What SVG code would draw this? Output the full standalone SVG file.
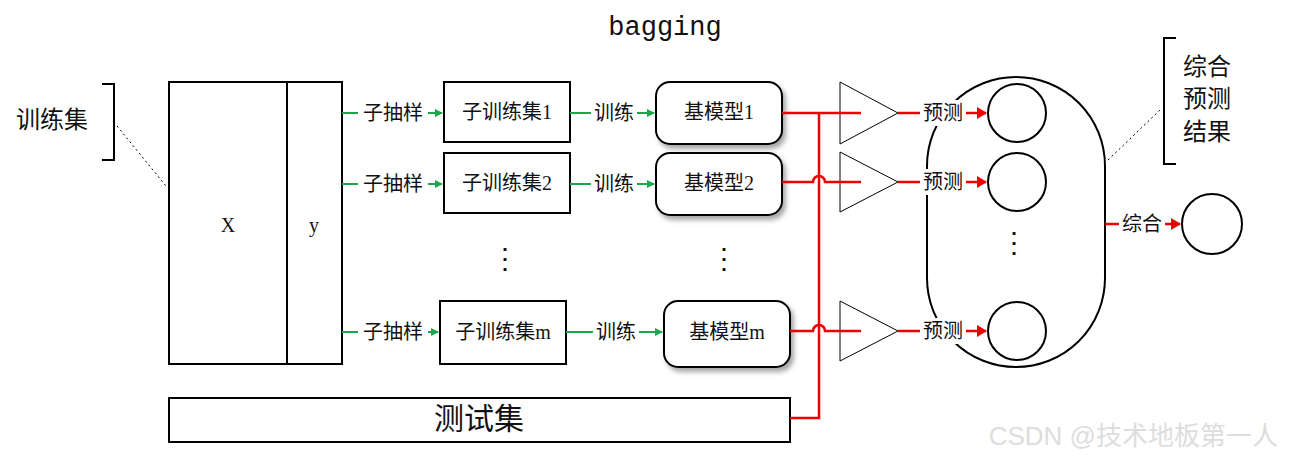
<svg xmlns="http://www.w3.org/2000/svg" width="1295" height="462" viewBox="0 0 1295 462">
<defs>
<marker id="ag" markerWidth="8" markerHeight="8" refX="7" refY="4" orient="auto" markerUnits="userSpaceOnUse"><path d="M0,0 L8,4 L0,8 z" fill="#1aa64a"/></marker>
<marker id="ar" markerWidth="10" markerHeight="12" refX="9" refY="6" orient="auto" markerUnits="userSpaceOnUse"><path d="M0,0 L10,6 L0,12 z" fill="#e00"/></marker>
<filter id="sh" x="-20%" y="-20%" width="150%" height="160%"><feDropShadow dx="3" dy="4" stdDeviation="2.5" flood-color="#000" flood-opacity="0.35"/></filter>
</defs>
<style>
text{font-family:"Liberation Serif","Noto Sans CJK SC",serif;fill:#111}
.t{font-size:20px}
.box{fill:#fff;stroke:#000;stroke-width:2}
.g{stroke:#1aa64a;stroke-width:2;fill:none}
.r{stroke:#e00;stroke-width:2.5;fill:none}
.tri{fill:#fff;stroke:#000;stroke-width:1}
.c{fill:#fff;stroke:#000;stroke-width:2}
.lbl{fill:#fff}
</style>
<rect width="1295" height="462" fill="#fff"/>
<text x="665" y="35" text-anchor="middle" font-size="27" style="font-family:'Liberation Mono',monospace">bagging</text>
<g id="trainset">
<text x="16" y="128" font-size="24">训练集</text>
<path d="M102,84 H114 V160 H102" fill="none" stroke="#000" stroke-width="2"/>
<path d="M117,126 L166,186" stroke="#000" stroke-dasharray="2,3" fill="none"/>
</g>
<g id="X"><rect class="box" x="169" y="82" width="118" height="282"/><text x="228" y="232" text-anchor="middle" class="t">X</text></g>
<g id="y"><rect class="box" x="287" y="82" width="55" height="282"/><text x="314" y="232" text-anchor="middle" class="t">y</text></g>
<g id="test"><rect class="box" x="169" y="398" width="621" height="44"/><text x="479" y="429" text-anchor="middle" font-size="30">测试集</text></g>
<g id="sub1"><rect class="box" x="444" y="82" width="126" height="60"/><text x="507" y="119" text-anchor="middle" class="t">子训练集1</text></g>
<g id="sub2"><rect class="box" x="444" y="153" width="126" height="60"/><text x="507" y="190" text-anchor="middle" class="t">子训练集2</text></g>
<g id="subm"><rect class="box" x="440" y="301" width="126" height="63"/><text x="503" y="339" text-anchor="middle" class="t">子训练集m</text></g>
<g id="m1"><rect class="box" filter="url(#sh)" x="656" y="82" width="126" height="62" rx="14"/><text x="719" y="119" text-anchor="middle" class="t">基模型1</text></g>
<g id="m2"><rect class="box" filter="url(#sh)" x="656" y="153" width="126" height="62" rx="14"/><text x="719" y="190" text-anchor="middle" class="t">基模型2</text></g>
<g id="mm"><rect class="box" filter="url(#sh)" x="664" y="301" width="126" height="66" rx="14"/><text x="727" y="339" text-anchor="middle" class="t">基模型m</text></g>
<g id="dots" font-size="28"><text x="505" y="268" text-anchor="middle">⋮</text><text x="724" y="268" text-anchor="middle">⋮</text><text x="1014" y="252" text-anchor="middle">⋮</text></g>
<g id="tris">
<path class="tri" d="M840,82 L898,113 L840,144 z"/>
<path class="tri" d="M840,152 L898,182 L840,212 z"/>
<path class="tri" d="M840,301 L898,331 L840,361 z"/>
</g>
<g id="container"><rect x="927" y="77" width="178" height="290" rx="89" fill="none" stroke="#000" stroke-width="2"/></g>
<g id="circles">
<circle class="c" cx="1017" cy="113" r="29"/>
<circle class="c" cx="1017" cy="182" r="29"/>
<circle class="c" cx="1017" cy="331" r="29"/>
<circle class="c" cx="1212" cy="224" r="30"/>
</g>
<g id="result">
<path d="M1176,38 H1164 V164 H1176" fill="none" stroke="#000" stroke-width="2"/>
<text x="1183" y="75" font-size="24">综合</text>
<text x="1183" y="107" font-size="24">预测</text>
<text x="1183" y="140" font-size="24">结果</text>
<path d="M1108,160 L1160,110" stroke="#000" stroke-dasharray="2,3" fill="none"/>
</g>
<g id="connectors">
<g class="t">
<path class="g" d="M342,113 H442" marker-end="url(#ag)"/>
<path class="g" d="M342,184 H442" marker-end="url(#ag)"/>
<path class="g" d="M342,332 H438" marker-end="url(#ag)"/>
<path class="g" d="M570,113 H654" marker-end="url(#ag)"/>
<path class="g" d="M570,184 H654" marker-end="url(#ag)"/>
<path class="g" d="M566,332 H662" marker-end="url(#ag)"/>
<rect class="lbl" x="358" y="100" width="70" height="26"/><text x="393" y="120" text-anchor="middle">子抽样</text>
<rect class="lbl" x="358" y="171" width="70" height="26"/><text x="393" y="191" text-anchor="middle">子抽样</text>
<rect class="lbl" x="358" y="319" width="70" height="26"/><text x="393" y="339" text-anchor="middle">子抽样</text>
<rect class="lbl" x="591" y="100" width="46" height="26"/><text x="614" y="120" text-anchor="middle">训练</text>
<rect class="lbl" x="591" y="171" width="46" height="26"/><text x="614" y="191" text-anchor="middle">训练</text>
<rect class="lbl" x="593" y="319" width="46" height="26"/><text x="616" y="339" text-anchor="middle">训练</text>
</g>
<path class="r" d="M782,113 H861"/>
<path class="r" d="M782,182 H813 A6,6 0 0 1 825,182 H861"/>
<path class="r" d="M790,331 H813 A6,6 0 0 1 825,331 H861"/>
<path class="r" d="M790,418 H819 V113"/>
<path class="r" d="M898,113 H986" marker-end="url(#ar)"/>
<path class="r" d="M898,182 H986" marker-end="url(#ar)"/>
<path class="r" d="M898,331 H986" marker-end="url(#ar)"/>
<path class="r" d="M1105,224 H1180" marker-end="url(#ar)"/>
<g class="t">
<rect class="lbl" x="920" y="100" width="46" height="26"/><text x="943" y="120" text-anchor="middle">预测</text>
<rect class="lbl" x="920" y="169" width="46" height="26"/><text x="943" y="189" text-anchor="middle">预测</text>
<rect class="lbl" x="920" y="318" width="46" height="26"/><text x="943" y="338" text-anchor="middle">预测</text>
<rect class="lbl" x="1119" y="211" width="46" height="26"/><text x="1142" y="231" text-anchor="middle">综合</text>
</g>
</g>
<text x="1278" y="445" text-anchor="end" font-size="26" style="font-family:'Liberation Sans','Noto Sans CJK SC',sans-serif;fill:#ddd">CSDN @技术地板第一人</text>
</svg>
